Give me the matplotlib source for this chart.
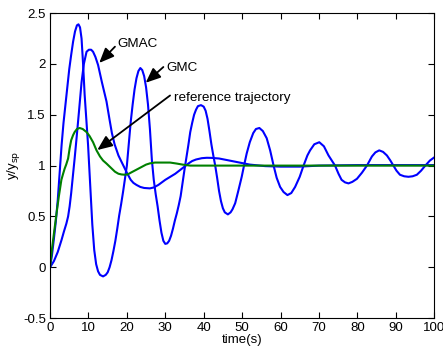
import numpy as np
import matplotlib.pyplot as plt

plt.rcParams['font.family'] = ['Liberation Sans', 'DejaVu Sans']

# GMC response (fast oscillation)
t_gmc = [0, 0.5, 1, 1.5, 2, 2.5, 3, 3.5, 4, 4.5, 5, 5.5, 6, 6.5, 7, 7.4, 7.8, 8.2, 8.6, 9,
         9.5, 9.9, 10.5, 11, 11.5, 12, 12.5, 13, 13.8, 14.5, 15, 15.5, 16, 16.5, 17, 17.5,
         18, 18.5, 19, 19.5, 20, 20.5, 21, 21.5, 22, 22.5, 23, 23.5, 24, 24.5, 25, 25.5,
         26, 26.5, 27, 27.5, 28, 28.5, 29, 29.5, 30, 30.5, 31, 31.5, 32, 32.5, 33, 33.5,
         34, 34.5, 35, 35.5, 36, 36.5, 37, 37.5, 38, 38.5, 39.3, 40, 40.5, 41, 41.5, 42,
         42.5, 43, 43.5, 44, 44.5, 45, 45.5, 46.3, 47, 47.5, 48.2, 49, 49.9, 50.5, 51.2,
         52, 52.9, 53.6, 54.5, 55.4, 56.4, 57.3, 58.2, 59, 59.9, 60.8, 61.8, 62.8, 63.8,
         65, 66, 67, 67.7, 68.8, 70.1, 71.3, 72.5, 74.2, 75.1, 75.9, 76.8, 77.7, 78.7,
         79.9, 81.2, 82.5, 83.8, 84.7, 85.7, 86.7, 87.7, 88.6, 89.4, 90.2, 91.1, 92.2,
         93.3, 94.4, 95.5, 96.6, 97.7, 98.9, 100]
y_gmc = [0, 0.12, 0.28, 0.45, 0.66, 0.93, 1.2, 1.42, 1.6, 1.78, 1.95, 2.09, 2.22, 2.32,
         2.38, 2.39, 2.36, 2.25, 2.0, 1.7, 1.42, 1.2, 0.78, 0.42, 0.17, 0.03, -0.04, -0.075,
         -0.09, -0.075, -0.05, 0.0, 0.07, 0.16, 0.26, 0.38, 0.51, 0.62, 0.74, 0.87, 1.0,
         1.22, 1.43, 1.6, 1.75, 1.86, 1.93, 1.96, 1.94, 1.88, 1.77, 1.6, 1.36, 1.06, 0.86,
         0.72, 0.6, 0.46, 0.34, 0.26, 0.23, 0.235, 0.26, 0.31, 0.38, 0.46, 0.53, 0.61, 0.7,
         0.83, 0.96, 1.08, 1.2, 1.33, 1.42, 1.5, 1.55, 1.585, 1.595, 1.58, 1.54, 1.46,
         1.34, 1.21, 1.1, 1.0, 0.88, 0.75, 0.65, 0.58, 0.54, 0.52, 0.54, 0.57, 0.63, 0.75,
         0.89, 1.0, 1.12, 1.23, 1.32, 1.36, 1.37, 1.34, 1.27, 1.15, 1.0, 0.88, 0.79, 0.74,
         0.71, 0.73, 0.79, 0.89, 1.0, 1.1, 1.15, 1.21, 1.23, 1.19, 1.1, 1.0, 0.92, 0.86,
         0.835, 0.825, 0.84, 0.87, 0.93, 1.0, 1.09, 1.13, 1.15, 1.135, 1.1, 1.05, 1.0, 0.95,
         0.91, 0.895, 0.89, 0.895, 0.91, 0.95, 1.0, 1.05, 1.08]

# GMAC response
t_gmac = [0, 1, 2, 3, 3.6, 4.25, 4.7, 5.1, 5.5, 6, 6.4, 6.85, 7.5, 8.2, 8.8, 9.5, 10.1,
          10.7, 11.2, 11.8, 12.5, 13.5, 14.7, 15.5, 16.1, 16.8, 17.8, 18.7, 20, 21, 21.7,
          22.5, 23.5, 24.5, 26, 27, 28.2, 30, 32.6, 35, 36, 37, 38, 39.5, 40.8, 42, 44, 48,
          52, 56, 60, 65, 70, 80, 100]
y_gmac = [0, 0.06, 0.15, 0.27, 0.35, 0.43, 0.5, 0.6, 0.73, 0.92, 1.07, 1.25, 1.52, 1.82,
          2.0, 2.12, 2.14, 2.14, 2.12, 2.07, 1.99, 1.82, 1.63, 1.45, 1.32, 1.21, 1.1, 1.03,
          0.93, 0.86, 0.83, 0.81, 0.79, 0.78, 0.776, 0.785, 0.81, 0.86, 0.92, 0.99, 1.02,
          1.045, 1.06, 1.073, 1.077, 1.076, 1.07, 1.04, 1.01, 0.995, 0.99, 0.99, 1.0, 1.005,
          1.005]

# reference trajectory
t_ref = [0, 0.5, 1, 1.65, 2.3, 2.95, 3.4, 3.8, 4.2, 4.7, 5.1, 5.5, 6, 6.4, 7, 7.7, 8.5,
         9.5, 10.3, 11.2, 12.1, 13, 13.8, 14.7, 15.8, 16.9, 17.8, 18.6, 19.5, 20.3, 21, 22,
         23, 24, 25, 26, 27.3, 29, 31.25, 33, 34.5, 36.5, 45, 100]
y_ref = [0, 0.18, 0.33, 0.52, 0.7, 0.86, 0.92, 0.97, 1.01, 1.07, 1.17, 1.25, 1.3, 1.33,
         1.36, 1.37, 1.36, 1.33, 1.29, 1.23, 1.15, 1.09, 1.05, 1.02, 0.98, 0.94, 0.92,
         0.913, 0.91, 0.915, 0.93, 0.95, 0.97, 0.99, 1.01, 1.022, 1.03, 1.03, 1.03, 1.02,
         1.01, 1.0, 1.0, 1.0]

fig = plt.figure(figsize=(4.43, 3.55), dpi=100)
ax = fig.add_axes([0.113, 0.104, 0.867, 0.859])

ax.plot(t_gmc, y_gmc, color='#0000ff', lw=1.5)
ax.plot(t_gmac, y_gmac, color='#0000ff', lw=1.5)
ax.plot(t_ref, y_ref, color='#008000', lw=1.5)

ax.set_xlim(0, 100)
ax.set_ylim(-0.5, 2.5)
ax.set_xticks(np.arange(0, 101, 10))
ax.set_yticks([-0.5, 0, 0.5, 1, 1.5, 2, 2.5])
ax.set_yticklabels(['-0.5', '0', '0.5', '1', '1.5', '2', '2.5'])
ax.tick_params(direction='in', top=True, right=True, labelsize=9.5, length=4,
               width=0.8, pad=3)
for s in ax.spines.values():
    s.set_linewidth(0.8)

ax.set_xlabel('time(s)', fontsize=9.5, labelpad=0)
ax.set_ylabel('y/y$_{\\rm sp}$', fontsize=9.5, labelpad=1)

arr = dict(arrowstyle='-|>,head_length=0.9,head_width=0.38', color='k', lw=1.3,
           shrinkA=0, shrinkB=0)
ax.annotate('', xy=(12.8, 2.01), xytext=(16.9, 2.17), arrowprops=arr)
ax.annotate('', xy=(24.9, 1.815), xytext=(29.5, 1.97), arrowprops=arr)
ax.annotate('', xy=(12.3, 1.153), xytext=(31.25, 1.69), arrowprops=arr)
ax.text(17.6, 2.195, 'GMAC', fontsize=9.7, va='center')
ax.text(30.4, 1.96, 'GMC', fontsize=9.7, va='center')
ax.text(32.3, 1.664, 'reference trajectory', fontsize=9.7, va='center')

plt.savefig('out.png', dpi=100)
